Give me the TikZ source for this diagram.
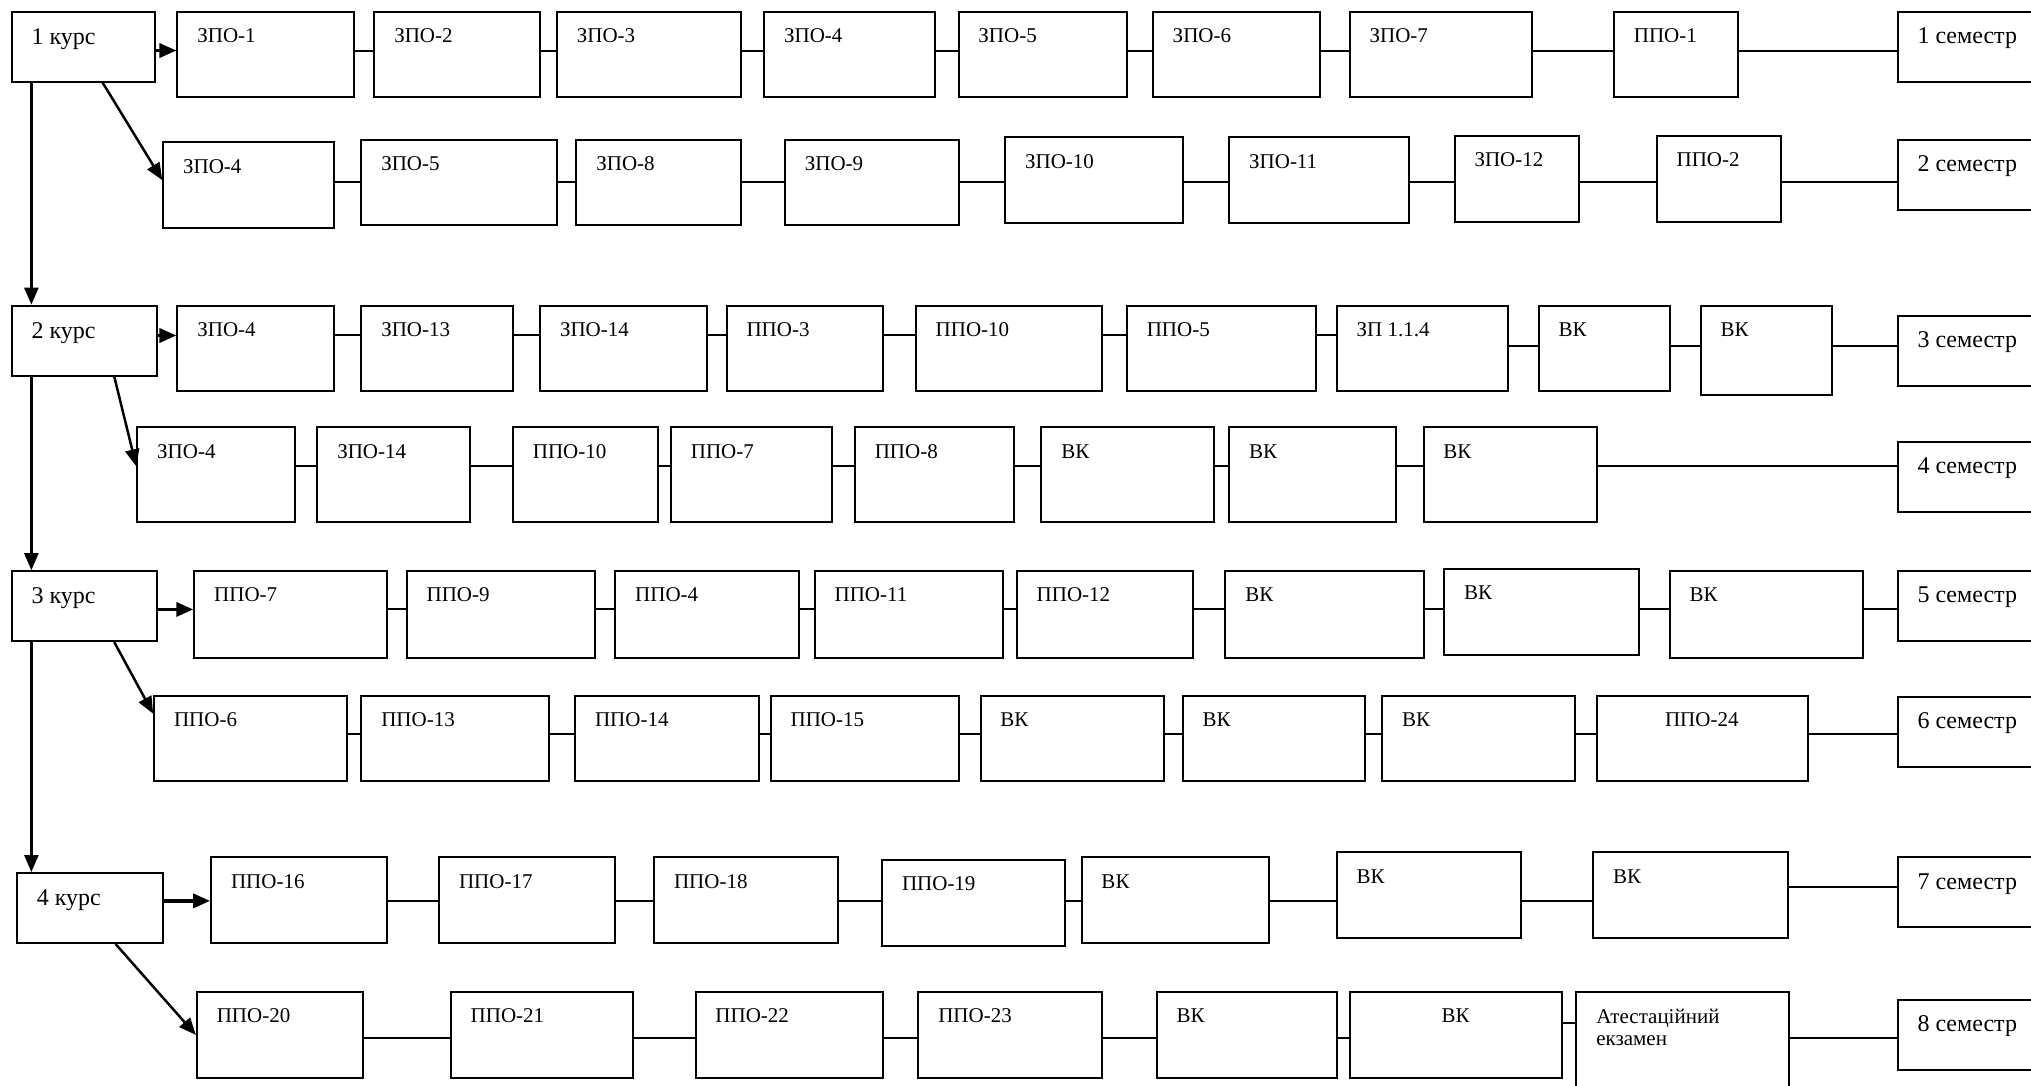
\documentclass[tikz,border=0pt]{standalone}
\usepackage{fontspec}
\setmainfont{Liberation Serif}
\usetikzlibrary{arrows.meta}

% 1 одиниця = 1 px зменшеного зразка (1568x838), kf -> pt
\newcommand{\kf}{1.2953}
\newcommand{\velk}{\fontsize{24}{28}\selectfont}
% #1 опції напису, #2 ім'я, #3..#6 = x1,y1,x2,y2, #7 текст
\newcommand{\blok}[7][]{%
  \node[blok, minimum width={\kf*(#5-#3)}, minimum height={\kf*(#6-#4)}] (#2) at ({(#3+#5)/2},{(#4+#6)/2}) {};
  \node[napys, #1] (#2-t) at ([shift={(16,24.5)}]#2.north west) {#7};%
}

\begin{document}
\begin{tikzpicture}[x=1.2953pt, y=-1.2953pt,
  blok/.style={draw, rectangle, line width=2pt, inner sep=0pt},
  napys/.style={anchor=base west, inner sep=0pt, font=\fontsize{21}{22}\selectfont},
  kurs/.style={font=\velk, yshift=-2pt},
  sem/.style={font=\velk, yshift=-1pt},
  zv/.style={line width=2pt},
  strilka/.style={line width=2.5pt, -{Triangle[length=17pt,width=14pt]}}]

  %% ==== курси ====
  \blok[kurs]{k1}{9}{9}{120}{63}{1 курс}
  \blok[kurs]{k2}{9}{236}{121}{290}{2 курс}
  \blok[kurs]{k3}{9}{441}{121}{495}{3 курс}
  \blok[kurs]{k4}{13}{674}{126}{728}{4 курс}

  %% ==== семестри (праворуч, обрізані краєм) ====
  \blok[sem]{s1}{1465}{9}{1600}{63}{1 семестр}
  \blok[sem]{s2}{1465}{108}{1600}{162}{2 семестр}
  \blok[sem]{s3}{1465}{244}{1600}{298}{3 семестр}
  \blok[sem]{s4}{1465}{341}{1600}{395}{4 семестр}
  \blok[sem]{s5}{1465}{441}{1600}{495}{5 семестр}
  \blok[sem]{s6}{1465}{538}{1600}{592}{6 семестр}
  \blok[sem]{s7}{1465}{662}{1600}{716}{7 семестр}
  \blok[sem]{s8}{1465}{772}{1600}{826}{8 семестр}

  %% ==== 1 семестр ====
  \blok{a1}{137}{9}{273}{75}{ЗПО-1}
  \blok{a2}{289}{9}{417}{75}{ЗПО-2}
  \blok{a3}{430}{9}{572}{75}{ЗПО-3}
  \blok{a4}{590}{9}{722}{75}{ЗПО-4}
  \blok{a5}{740}{9}{870}{75}{ЗПО-5}
  \blok{a6}{890}{9}{1019}{75}{ЗПО-6}
  \blok{a7}{1042}{9}{1183}{75}{ЗПО-7}
  \blok{a8}{1246}{9}{1342}{75}{ППО-1}

  %% ==== 2 семестр ====
  \blok{b1}{126}{110}{258}{176}{ЗПО-4}
  \blok{b2}{279}{108}{430}{174}{ЗПО-5}
  \blok{b3}{445}{108}{572}{174}{ЗПО-8}
  \blok{b4}{606}{108}{740}{174}{ЗПО-9}
  \blok{b5}{776}{106}{913}{172}{ЗПО-10}
  \blok{b6}{949}{106}{1088}{172}{ЗПО-11}
  \blok{b7}{1123}{105}{1219}{171}{ЗПО-12}
  \blok{b8}{1279}{105}{1375}{171}{ППО-2}

  %% ==== 3 семестр ====
  \blok{c1}{137}{236}{258}{302}{ЗПО-4}
  \blok{c2}{279}{236}{396}{302}{ЗПО-13}
  \blok{c3}{417}{236}{546}{302}{ЗПО-14}
  \blok{c4}{561}{236}{682}{302}{ППО-3}
  \blok{c5}{707}{236}{851}{302}{ППО-10}
  \blok{c6}{870}{236}{1016}{302}{ППО-5}
  \blok{c7}{1032}{236}{1164}{302}{ЗП 1.1.4}
  \blok{c8}{1188}{236}{1289}{302}{ВК}
  \blok{c9}{1313}{236}{1414}{305}{ВК}

  %% ==== 4 семестр ====
  \blok{d1}{106}{330}{228}{403}{ЗПО-4}
  \blok{d2}{245}{330}{363}{403}{ЗПО-14}
  \blok{d3}{396}{330}{508}{403}{ППО-10}
  \blok{d4}{518}{330}{642}{403}{ППО-7}
  \blok{d5}{660}{330}{783}{403}{ППО-8}
  \blok{d6}{804}{330}{937}{403}{ВК}
  \blok{d7}{949}{330}{1078}{403}{ВК}
  \blok{d8}{1099}{330}{1233}{403}{ВК}

  %% ==== 5 семестр ====
  \blok{e1}{150}{441}{299}{508}{ППО-7}
  \blok{e2}{314}{441}{459}{508}{ППО-9}
  \blok{e3}{475}{441}{617}{508}{ППО-4}
  \blok{e4}{629}{441}{774}{508}{ППО-11}
  \blok{e5}{785}{441}{921}{508}{ППО-12}
  \blok{e6}{946}{441}{1099}{508}{ВК}
  \blok{e7}{1115}{439}{1265}{506}{ВК}
  \blok{e8}{1289}{441}{1438}{508}{ВК}

  %% ==== 6 семестр ====
  \blok{f1}{119}{537}{268}{603}{ППО-6}
  \blok{f2}{279}{537}{424}{603}{ППО-13}
  \blok{f3}{444}{537}{586}{603}{ППО-14}
  \blok{f4}{595}{537}{740}{603}{ППО-15}
  \blok{f5}{757}{537}{899}{603}{ВК}
  \blok{f6}{913}{537}{1054}{603}{ВК}
  \blok{f7}{1067}{537}{1216}{603}{ВК}
  \blok[xshift=48pt]{f8}{1233}{537}{1396}{603}{ППО-24}

  %% ==== 7 семестр ====
  \blok{g1}{163}{662}{299}{728}{ППО-16}
  \blok{g2}{339}{662}{475}{728}{ППО-17}
  \blok{g3}{505}{662}{647}{728}{ППО-18}
  \blok{g4}{681}{664}{822}{730}{ППО-19}
  \blok{g5}{835}{662}{980}{728}{ВК}
  \blok{g6}{1032}{658}{1174}{724}{ВК}
  \blok{g7}{1230}{658}{1380}{724}{ВК}

  %% ==== 8 семестр ====
  \blok{h1}{152}{766}{280}{832}{ППО-20}
  \blok{h2}{348}{766}{489}{832}{ППО-21}
  \blok{h3}{537}{766}{682}{832}{ППО-22}
  \blok{h4}{709}{766}{851}{832}{ППО-23}
  \blok{h5}{893}{766}{1032}{832}{ВК}
  \blok[xshift=72pt]{h6}{1042}{766}{1206}{832}{ВК}
  \blok[anchor=north west, align=left, yshift=14pt]{h7}{1217}{766}{1381}{850}{Атестаційний\\екзамен}

  %% ==== рівні з'єднувальних ліній ====
  \coordinate (r1) at (0,39);
  \coordinate (r2) at (0,140.5);
  \coordinate (r3) at (0,259);
  \coordinate (r3b) at (0,267);
  \coordinate (r4) at (0,360);
  \coordinate (r5) at (0,470.5);
  \coordinate (r6) at (0,567);
  \coordinate (r7) at (0,695.5);
  \coordinate (r7b) at (0,685);
  \coordinate (r8) at (0,801);
  \coordinate (r8b) at (0,790);

  %% ==== стрілки від курсів ====
  \draw[strilka, line width=3.4pt] (k1.east |- r1) -- (a1.west |- r1);
  \draw[strilka, line width=3.4pt] (k2.east |- r3) -- (c1.west |- r3);
  \draw[strilka, line width=3.4pt] (k3.east |- r5) -- (e1.west |- r5);
  \draw[strilka, line width=3.4pt] (k4.east |- r7) -- (g1.west |- r7);
  \draw[strilka] ([shift={(71,0)}]k1.south west) -- ([shift={(0,-4)}]b1.west);
  \draw[strilka] ([shift={(80,0)}]k2.south west) -- ([shift={(0,-6.5)}]d1.west);
  \draw[strilka] ([shift={(80,0)}]k3.south west) -- ([shift={(0,-19)}]f1.west);
  \draw[strilka] ([shift={(77,0)}]k4.south west) -- (h1.west);
  \coordinate (v1) at ([shift={(16,0)}]k1.south west);
  \coordinate (v2) at ([shift={(16,0)}]k2.south west);
  \coordinate (v3) at ([shift={(16,0)}]k3.south west);
  \draw[strilka] (v1) -- (v1 |- k2.north);
  \draw[strilka] (v2) -- (v2 |- k3.north);
  \draw[strilka] (v3) -- (v3 |- k4.north);

  %% ==== лінії між блоками ====
  \draw[zv] (a1.east |- r1) -- (a2.west |- r1)  (a2.east |- r1) -- (a3.west |- r1)
            (a3.east |- r1) -- (a4.west |- r1)  (a4.east |- r1) -- (a5.west |- r1)
            (a5.east |- r1) -- (a6.west |- r1)  (a6.east |- r1) -- (a7.west |- r1)
            (a7.east |- r1) -- (a8.west |- r1)  (a8.east |- r1) -- (s1.west |- r1);
  \draw[zv] (b1.east |- r2) -- (b2.west |- r2)  (b2.east |- r2) -- (b3.west |- r2)
            (b3.east |- r2) -- (b4.west |- r2)  (b4.east |- r2) -- (b5.west |- r2)
            (b5.east |- r2) -- (b6.west |- r2)  (b6.east |- r2) -- (b7.west |- r2)
            (b7.east |- r2) -- (b8.west |- r2)  (b8.east |- r2) -- (s2.west |- r2);
  \draw[zv] (c1.east |- r3) -- (c2.west |- r3)  (c2.east |- r3) -- (c3.west |- r3)
            (c3.east |- r3) -- (c4.west |- r3)  (c4.east |- r3) -- (c5.west |- r3)
            (c5.east |- r3) -- (c6.west |- r3)  (c6.east |- r3) -- (c7.west |- r3)
            (c7.east |- r3b) -- (c8.west |- r3b)  (c8.east |- r3b) -- (c9.west |- r3b)
            (c9.east |- r3b) -- (s3.west |- r3b);
  \draw[zv] (d1.east |- r4) -- (d2.west |- r4)  (d2.east |- r4) -- (d3.west |- r4)
            (d3.east |- r4) -- (d4.west |- r4)  (d4.east |- r4) -- (d5.west |- r4)
            (d5.east |- r4) -- (d6.west |- r4)  (d6.east |- r4) -- (d7.west |- r4)
            (d7.east |- r4) -- (d8.west |- r4)  (d8.east |- r4) -- (s4.west |- r4);
  \draw[zv] (e1.east |- r5) -- (e2.west |- r5)  (e2.east |- r5) -- (e3.west |- r5)
            (e3.east |- r5) -- (e4.west |- r5)  (e4.east |- r5) -- (e5.west |- r5)
            (e5.east |- r5) -- (e6.west |- r5)  (e6.east |- r5) -- (e7.west |- r5)
            (e7.east |- r5) -- (e8.west |- r5)  (e8.east |- r5) -- (s5.west |- r5);
  \draw[zv] (f1.east |- r6) -- (f2.west |- r6)  (f2.east |- r6) -- (f3.west |- r6)
            (f3.east |- r6) -- (f4.west |- r6)  (f4.east |- r6) -- (f5.west |- r6)
            (f5.east |- r6) -- (f6.west |- r6)  (f6.east |- r6) -- (f7.west |- r6)
            (f7.east |- r6) -- (f8.west |- r6)  (f8.east |- r6) -- (s6.west |- r6);
  \draw[zv] (g1.east |- r7) -- (g2.west |- r7)  (g2.east |- r7) -- (g3.west |- r7)
            (g3.east |- r7) -- (g4.west |- r7)  (g4.east |- r7) -- (g5.west |- r7)
            (g5.east |- r7) -- (g6.west |- r7)  (g6.east |- r7) -- (g7.west |- r7)
            (g7.east |- r7b) -- (s7.west |- r7b);
  \draw[zv] (h1.east |- r8) -- (h2.west |- r8)  (h2.east |- r8) -- (h3.west |- r8)
            (h3.east |- r8) -- (h4.west |- r8)  (h4.east |- r8) -- (h5.west |- r8)
            (h5.east |- r8) -- (h6.west |- r8)  (h6.east |- r8b) -- (h7.west |- r8b)
            (h7.east |- r8) -- (s8.west |- r8);

  % полотно як у зразку
  \pgfresetboundingbox
  \path[use as bounding box] (0,0) rectangle (1568,838.4);
\end{tikzpicture}
\end{document}
